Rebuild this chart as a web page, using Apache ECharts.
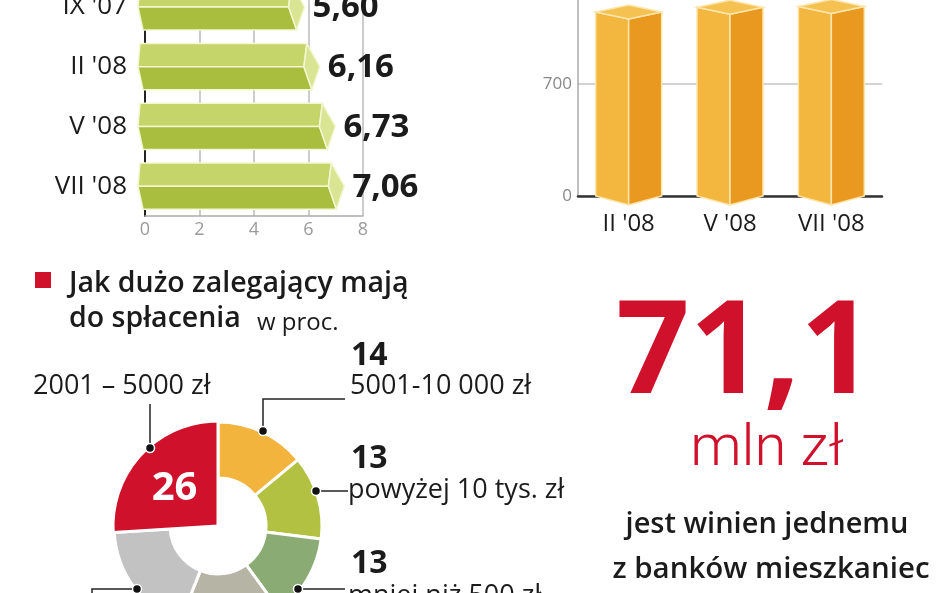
<!DOCTYPE html>
<html><head><meta charset="utf-8">
<script src="https://cdn.jsdelivr.net/npm/echarts@6/dist/echarts.min.js"></script>
<style>html,body{margin:0;padding:0;background:#fff}#c{width:948px;height:593px}</style>
</head><body><div id="c"></div>
<script>
// ---- data ----
const hCategories = ["IX '07", "II '08", "V '08", "VII '08"];
const hValues = [5.60, 6.16, 6.73, 7.06];
const hTicks = [0, 2, 4, 6, 8];
const vCategories = ["II '08", "V '08", "VII '08"];
const vValues = [1150, 1180, 1185];
const vTicks = [0, 700, 1400];
const donutLabels = ["5001-10 000 zł", "powyżej 10 tys. zł", "mniej niż 500 zł", "501-1000 zł", "1001-2000 zł", "2001 – 5000 zł"];
const donutValues = [14, 13, 13, 16, 18, 26];
const headline = ["Jak dużo zalegający mają", "do spłacenia", "w proc."];
const bigNumber = "71,1";
const bigUnit = "mln zł";
const bigText = ["jest winien jednemu", "z banków mieszkaniec"];

// ---- styles ----
const donutColors = ['#f2b43d', '#b3c142', '#8aab74', '#b6b4a4', '#c2c2c2', '#d0112b'];
const FONT = '"Open Sans"';
const RED = '#d0112b';

const chart = echarts.init(document.getElementById('c'));

function hBar(params, api) {
  const idx = api.value(1), val = api.value(0);
  const p0 = api.coord([0, idx]);
  const p1 = api.coord([val, idx]);
  const band = api.size([0, 1])[1];
  const h = band * 0.77;
  const cy = p0[1], top = cy - h / 2, bot = cy + h / 2;
  const x0 = p0[0], x1 = p1[0];
  const st = { stroke: '#f3f7d2', lineWidth: 1.5 };
  return {
    type: 'group',
    children: [
      { type: 'polygon', shape: { points: [[x0 - 5, top], [x1 - 6, top], [x1 - 9, cy], [x0 - 7, cy]] },
        style: Object.assign({ fill: '#c5d56a' }, st) },
      { type: 'polygon', shape: { points: [[x0 - 7, cy], [x1 - 9, cy], [x1 - 1, bot], [x0 - 2, bot]] },
        style: Object.assign({ fill: '#a9bd3e' }, st) },
      { type: 'polygon', shape: { points: [[x1 - 6, top], [x1 + 7, cy], [x1 - 1, bot], [x1 - 9, cy]] },
        style: Object.assign({ fill: '#d9e592' }, st) },
      { type: 'text', x: x1 + 15, y: cy + 1,
        style: { text: val.toFixed(2).replace('.', ','), fill: '#1b1b1b', font: 'bold 33px ' + FONT,
                 verticalAlign: 'middle', align: 'left' } }
    ]
  };
}

function vBar(params, api) {
  const idx = api.value(0), val = api.value(1);
  const pb = api.coord([idx, 0]);
  const pt = api.coord([idx, val]);
  const cx = pb[0], y0 = pb[1], yt = pt[1];
  const w = 33, d = 7, b = 9;
  const st = { stroke: '#fde6ad', lineWidth: 1.5 };
  return {
    type: 'group',
    children: [
      { type: 'polygon', shape: { points: [[cx - w, yt], [cx, yt + d], [cx, y0 + b], [cx - w, y0]] },
        style: Object.assign({ fill: '#f3b63f' }, st) },
      { type: 'polygon', shape: { points: [[cx, yt + d], [cx + w, yt], [cx + w, y0], [cx, y0 + b]] },
        style: Object.assign({ fill: '#e9991f' }, st) },
      { type: 'polygon', shape: { points: [[cx - w, yt], [cx, yt - d], [cx + w, yt], [cx, yt + d]] },
        style: Object.assign({ fill: '#f5c150' }, st) }
    ]
  };
}

const txt = (x, y, text, font, fill, align) => ({
  type: 'text', x: x, y: y, silent: true,
  style: { text: text, font: font, fill: fill || '#1b1b1b', align: align || 'left', verticalAlign: 'middle' }
});
const line = (pts) => ({ type: 'polyline', silent: true, shape: { points: pts }, style: { stroke: '#222', lineWidth: 1.5, fill: null } });
const dot = (x, y) => ({ type: 'circle', silent: true, shape: { cx: x, cy: y, r: 4.5 }, style: { fill: '#111', stroke: '#fff', lineWidth: 1.5 }, z: 10 });

const lab = '27px ' + FONT;
const num = 'bold 32px ' + FONT;

const graphic = [
  { type: 'rect', shape: { x: 35, y: 272, width: 16, height: 16 }, style: { fill: RED } },
  txt(69, 284, headline[0], '600 28.5px ' + FONT),
  txt(69, 319, headline[1], '600 28.5px ' + FONT),
  txt(257, 323, headline[2], '24px ' + FONT),
  // 2001-5000
  txt(33, 386, donutLabels[5], lab),
  line([[150, 404], [150, 448]]), dot(150, 448),
  // 5001-10000
  txt(351, 356, String(donutValues[0]), num),
  txt(350, 386, donutLabels[0], lab),
  line([[263, 431], [263, 399], [345, 399]]), dot(263, 431),
  // >10 tys
  txt(351, 459, String(donutValues[1]), num),
  txt(348, 490, donutLabels[1], lab),
  line([[316, 491], [348, 491]]), dot(316, 491),
  // <500
  txt(351, 564, String(donutValues[2]), num),
  txt(348, 596, donutLabels[2], lab),
  line([[298, 589], [345, 589]]), dot(298, 589),
  // grey
  line([[137, 589], [92, 589], [92, 600]]), dot(137, 589),
  // right text block
  txt(745, 356, bigNumber, 'bold 129px ' + FONT, RED, 'center'),
  txt(767, 450, bigUnit, '300 58px Roboto', RED, 'center'),
  txt(767, 525, bigText[0], '600 29px ' + FONT, '#1b1b1b', 'center'),
  txt(771, 570, bigText[1], '600 29.5px ' + FONT, '#1b1b1b', 'center')
];

const ringData = donutValues.map((v, i) => ({
  value: v, name: donutLabels[i],
  itemStyle: i === 5 ? { color: 'rgba(0,0,0,0)', borderWidth: 0 } : { color: donutColors[i], borderColor: '#fff', borderWidth: 3 }
}));
const wedgeData = donutValues.map((v, i) => ({
  value: v, name: donutLabels[i],
  itemStyle: i === 5 ? { color: donutColors[i], borderColor: '#fff', borderWidth: 3 } : { color: 'rgba(0,0,0,0)', borderWidth: 0 },
  label: i === 5 ? { show: true, position: 'inside', formatter: '{c}', color: '#fff', fontFamily: 'Open Sans', fontWeight: 'bold', fontSize: 40, offset: [-3, 1] } : { show: false }
}));

chart.setOption({
  animation: false,
  textStyle: { fontFamily: 'Open Sans' },
  grid: [
    { left: 145, top: -23, width: 218, height: 239, outerBoundsMode: 'none', containLabel: false },
    { left: 578, top: -28, width: 304, height: 224, outerBoundsMode: 'none', containLabel: false }
  ],
  xAxis: [
    { type: 'value', gridIndex: 0, min: hTicks[0], max: hTicks[hTicks.length - 1], interval: hTicks[1] - hTicks[0],
      axisLine: { show: true, lineStyle: { color: '#aaa', width: 1.5 } }, axisTick: { show: false },
      axisLabel: { color: '#9a9a9a', fontSize: 18, margin: 5 },
      splitLine: { show: true, lineStyle: { color: '#bbb', width: 1.5 } } },
    { type: 'category', gridIndex: 1, data: vCategories,
      axisLine: { show: true, lineStyle: { color: '#333', width: 2.5 } }, axisTick: { show: false },
      axisLabel: { color: '#1b1b1b', fontSize: 24, margin: 16 } }
  ],
  yAxis: [
    { type: 'category', gridIndex: 0, data: hCategories, inverse: true,
      axisLine: { show: true, lineStyle: { color: '#222', width: 2 } }, axisTick: { show: false },
      axisLabel: { color: '#1b1b1b', fontSize: 26, margin: 18 } },
    { type: 'value', gridIndex: 1, min: vTicks[0], max: vTicks[vTicks.length - 1], interval: vTicks[1] - vTicks[0],
      axisLine: { show: true, lineStyle: { color: '#aaa', width: 1.5 } }, axisTick: { show: false },
      axisLabel: { color: '#888', fontSize: 17, margin: 6 },
      splitLine: { show: true, lineStyle: { color: '#c4c4c4', width: 1.5 } } }
  ],
  series: [
    { type: 'custom', xAxisIndex: 0, yAxisIndex: 0, renderItem: hBar, encode: { x: 0, y: 1 },
      data: hValues.map((v, i) => [v, i]), clip: false },
    { type: 'custom', xAxisIndex: 1, yAxisIndex: 1, renderItem: vBar, encode: { x: 0, y: 1 },
      data: vValues.map((v, i) => [i, v]), clip: false },
    { type: 'pie', center: [218, 526], radius: [48, 104], startAngle: 90, clockwise: true, silent: true,
      label: { show: false }, labelLine: { show: false }, data: ringData },
    { type: 'pie', center: [218, 526], radius: [0, 105], startAngle: 90, clockwise: true, silent: true,
      labelLine: { show: false }, data: wedgeData }
  ],
  graphic: graphic
});
</script>
</body></html>
